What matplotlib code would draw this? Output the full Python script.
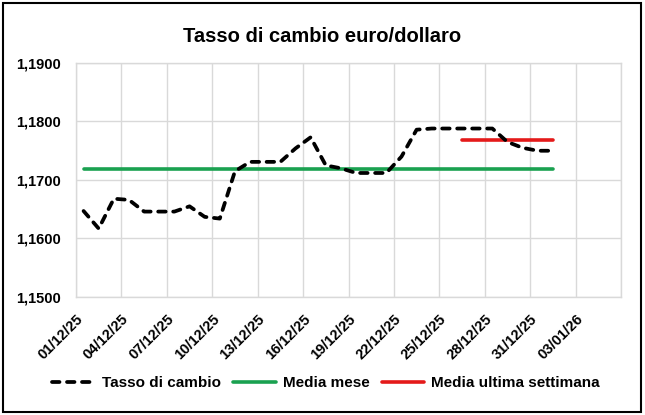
import datetime as dt
import matplotlib
matplotlib.use("Agg")
import matplotlib.pyplot as plt
from matplotlib.patches import Rectangle

plt.rcParams['font.family'] = ['Liberation Sans', 'DejaVu Sans']
plt.rcParams['font.weight'] = 'bold'

# daily euro/dollar rate, 01/12/25 -> 01/01/26
start = dt.datetime(2025, 12, 1)
dates = [start + dt.timedelta(days=i) for i in range(32)]
tasso = [1.1647, 1.1617, 1.1668, 1.1666, 1.1646, 1.1646, 1.1646, 1.1655,
         1.1637, 1.1634, 1.1715, 1.1731, 1.1731, 1.1731, 1.1754, 1.1773,
         1.1725, 1.1720, 1.1712, 1.1712, 1.1712, 1.1740, 1.1786, 1.1788,
         1.1788, 1.1788, 1.1788, 1.1788, 1.1765, 1.1755, 1.1750, 1.1750]
media_mese = 1.1718
media_settimana = 1.1769
settimana_start = 25  # index of 26/12/25

# points sit in the middle of each day slot
xs = [d + dt.timedelta(hours=12) for d in dates]

fig = plt.figure(figsize=(6.45, 4.15), dpi=100)
ax = fig.add_axes([76/645, 1-297/415, (621-76)/645, (297-63)/415])

ax.plot(xs, tasso, color='black', lw=2.7, linestyle=(0, (2.0, 2.0)),
        dash_capstyle='round', label='Tasso di cambio', zorder=3)
ax.plot([xs[0], xs[-1]], [media_mese]*2, color='#1aa150', lw=2.6,
        solid_capstyle='round', label='Media mese', zorder=2)
ax.plot([xs[settimana_start], xs[-1]], [media_settimana]*2, color='#e41a1a',
        lw=2.6, solid_capstyle='round', label='Media ultima settimana', zorder=2)

ax.set_xlim(start, start + dt.timedelta(days=36))
ax.set_ylim(1.15, 1.19)
yt = [1.15, 1.16, 1.17, 1.18, 1.19]
ax.set_yticks(yt)
ax.set_yticklabels([f"{v:.4f}".replace('.', ',') for v in yt])

xt = [start + dt.timedelta(days=3*k) for k in range(13)]
ax.set_xticks(xt)
ax.set_xticklabels([d.strftime('%d/%m/%y') for d in xt[:-1]] + [''])
for lab in ax.get_xticklabels():
    lab.set_rotation(45)
    lab.set_ha('right')
    lab.set_va('top')
    lab.set_rotation_mode('anchor')

ax.tick_params(axis='both', length=0, labelsize=10.5)
ax.tick_params(axis='y', pad=11)
ax.tick_params(axis='x', pad=11)
ax.grid(True, color='#d9d9d9', lw=1)
for s in ax.spines.values():
    s.set_color('#d9d9d9')
    s.set_linewidth(1)

fig.text(322/645, 1-36/415, 'Tasso di cambio euro/dollaro', ha='center', va='center',
         fontsize=14.5, fontweight='bold')

fig.legend(loc='center', bbox_to_anchor=(326/645, 1-383/415), ncol=3, frameon=False,
           fontsize=11, handlelength=2.8, handletextpad=0.45, columnspacing=0.8)

fig.patches.append(Rectangle((3/645, 3/415), 638/645, 409/415, transform=fig.transFigure,
                             fill=False, edgecolor='black', lw=1.5))

fig.savefig('out.png', dpi=100)
